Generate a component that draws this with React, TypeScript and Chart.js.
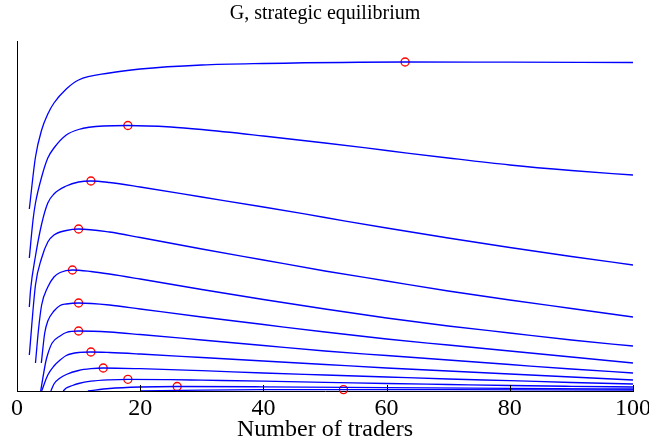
import React, { useEffect, useRef } from "react";
import { Chart, registerables } from "chart.js";

Chart.register(...registerables);

const TITLE = "G, strategic equilibrium";
const X_LABEL = "Number of traders";
const X_TICKS = [0, 20, 40, 60, 80, 100];

const c1N = [2, 3, 4, 5, 6, 8, 10, 15, 20, 30, 40, 63, 80, 100];
const c1G = [182, 234, 261, 277, 288, 302, 311, 318, 322, 326, 327.5, 329, 328.8, 328.5];
const c2N = [2, 2.6, 3, 4, 5, 6, 8, 10, 14, 18, 25, 30, 40, 50, 60, 70, 80, 90, 100];
const c2G = [133, 171, 188, 214, 233, 243, 256, 261.5, 265, 265.5, 264, 261.5, 255, 248, 240.5, 233, 226, 220.5, 216];
const c3N = [2, 2.2, 3, 4, 5, 6, 8, 10, 12, 15, 20, 30, 40, 50, 60, 70, 80, 90, 100];
const c3G = [84, 101, 135, 167, 188, 197, 205, 209, 210, 208.5, 204, 194, 184, 173.5, 163, 153, 143.5, 134.5, 126];
const c4N = [2, 3, 4, 5, 6, 8, 10, 15, 20, 30, 40, 50, 60, 70, 80, 90, 100];
const c4G = [36, 106, 133, 149, 156, 160.5, 162, 159, 153.5, 142, 131, 120, 110, 100, 91, 82.5, 74];
const c5N = [3, 3.5, 4, 5, 6, 7, 9, 12, 15, 20, 30, 40, 50, 60, 70, 80, 90, 100];
const c5G = [28, 62, 86, 104, 114, 118.5, 121, 119.5, 117, 112, 101.5, 91.5, 82, 73, 65, 58, 51, 45];
const c6N = [3.95, 4.5, 5, 6, 7, 8, 10, 15, 20, 30, 40, 50, 60, 70, 80, 90, 100];
const c6G = [28, 58, 70, 80, 85.5, 87, 88, 86, 82, 74, 66.5, 59, 52, 46, 40, 34, 28];
const c7N = [3.85, 4.66, 5, 5.7, 7, 8, 10, 15, 20, 30, 40, 50, 60, 70, 80, 90, 100];
const c7G = [0, 29, 37, 48, 55, 58.5, 60, 59, 56.5, 51, 45.5, 40, 35.5, 31, 26.5, 22, 18];
const c8N = [4, 5, 6, 7, 8, 10, 12, 15, 20, 30, 40, 50, 60, 70, 80, 90, 100];
const c8G = [0, 16, 25, 31, 35.5, 38.5, 39, 38.5, 37, 33.5, 30, 26.5, 23, 20, 17, 14, 11];
const c9N = [5.5, 6, 7, 8, 10, 12, 14, 20, 30, 40, 50, 60, 70, 80, 90, 100];
const c9G = [0, 7, 13, 16.5, 20.5, 22.3, 23, 22.3, 20.3, 18, 16, 14, 12, 10.3, 8.5, 7];
const c10N = [7.5, 8, 9, 10, 12, 15, 18, 25, 30, 40, 50, 60, 70, 80, 90, 100];
const c10G = [0, 3, 5.5, 7.5, 9.8, 11.2, 11.7, 11.3, 10.8, 9.8, 8.7, 7.5, 6.5, 5.5, 4.7, 4];
const c11N = [11.5, 15, 20, 26, 40, 60, 80, 100];
const c11G = [0, 2.5, 4, 4.5, 4.2, 3.4, 2.6, 2];
const c12N = [20, 30, 40, 53, 70, 100];
const c12G = [0, 0.9, 1.3, 1.4, 1.3, 1.0];

const peakN = [63, 18, 12, 10, 9, 10, 10, 12, 14, 18, 26, 53];
const peakG = [329, 265.5, 210, 162, 121, 88, 60, 39, 23, 11.7, 4.5, 1.4];

const curves: [number[], number[]][] = [
  [c1N, c1G], [c2N, c2G], [c3N, c3G], [c4N, c4G], [c5N, c5G], [c6N, c6G],
  [c7N, c7G], [c8N, c8G], [c9N, c9G], [c10N, c10G], [c11N, c11G], [c12N, c12G],
];

const FONT = "'Liberation Serif', 'Times New Roman', serif";

export default function App() {
  const ref = useRef<HTMLCanvasElement | null>(null);
  useEffect(() => {
    document.body.style.margin = "0";
    const canvas = ref.current;
    if (!canvas) return;
    const inwardTicks = {
      id: "inwardTicks",
      afterDatasetsDraw(chart: any) {
        const xs = chart.scales.x;
        const ctx = chart.ctx;
        const bottom = chart.chartArea.bottom;
        ctx.save();
        ctx.strokeStyle = "#000";
        ctx.lineWidth = 1;
        for (const v of X_TICKS) {
          const px = Math.round(xs.getPixelForValue(v)) + 0.5;
          ctx.beginPath();
          ctx.moveTo(px, bottom);
          ctx.lineTo(px, bottom - 6);
          ctx.stroke();
        }
        ctx.restore();
      },
    };
    const datasets: any[] = curves.map(([ns, gs]) => ({
      type: "line",
      data: ns.map((n, i) => ({ x: n, y: gs[i] })),
      borderColor: "#0000ff",
      borderWidth: 1.3,
      pointRadius: 0,
      fill: false,
      cubicInterpolationMode: "monotone",
    }));
    datasets.push({
      type: "scatter",
      data: peakN.map((n, i) => ({ x: n, y: peakG[i] })),
      pointStyle: "circle",
      pointRadius: 4,
      borderColor: "#ff0000",
      backgroundColor: "rgba(0,0,0,0)",
      borderWidth: 1.3,
      showLine: false,
      clip: false,
    });
    const chart = new Chart(canvas, {
      type: "line",
      data: { datasets },
      options: {
        responsive: false,
        animation: false,
        layout: { padding: { left: 17, right: 16, top: 0, bottom: 0 } },
        plugins: {
          legend: { display: false },
          tooltip: { enabled: false },
          title: {
            display: true,
            text: TITLE,
            color: "#000",
            font: { family: FONT, size: 20, weight: "normal" },
            padding: { top: 2, bottom: 15 },
          },
        },
        scales: {
          x: {
            type: "linear",
            min: 0,
            max: 100,
            ticks: {
              stepSize: 20,
              color: "#000",
              font: { family: FONT, size: 24 },
              padding: 3,
              maxRotation: 0,
            },
            grid: { display: false, drawTicks: false },
            border: { display: true, color: "#000", width: 1 },
            title: {
              display: true,
              text: X_LABEL,
              color: "#000",
              font: { family: FONT, size: 24 },
              padding: { top: 0, bottom: 0 },
            },
            afterFit: (s: any) => {
              s.height = 53;
              s.paddingLeft = 0;
              s.paddingRight = 0;
            },
          },
          y: {
            type: "linear",
            min: 0,
            max: 350,
            ticks: { display: false },
            grid: { display: false, drawTicks: false },
            border: { display: true, color: "#000", width: 1 },
            afterFit: (s: any) => {
              s.width = 0;
              s.paddingTop = 0;
              s.paddingBottom = 0;
            },
          },
        },
      } as any,
      plugins: [inwardTicks],
    });
    return () => chart.destroy();
  }, []);
  return (
    <div style={{ position: "absolute", left: 0, top: 0, width: 649, height: 444, background: "#fff" }}>
      <canvas ref={ref} width={649} height={444} />
    </div>
  );
}
